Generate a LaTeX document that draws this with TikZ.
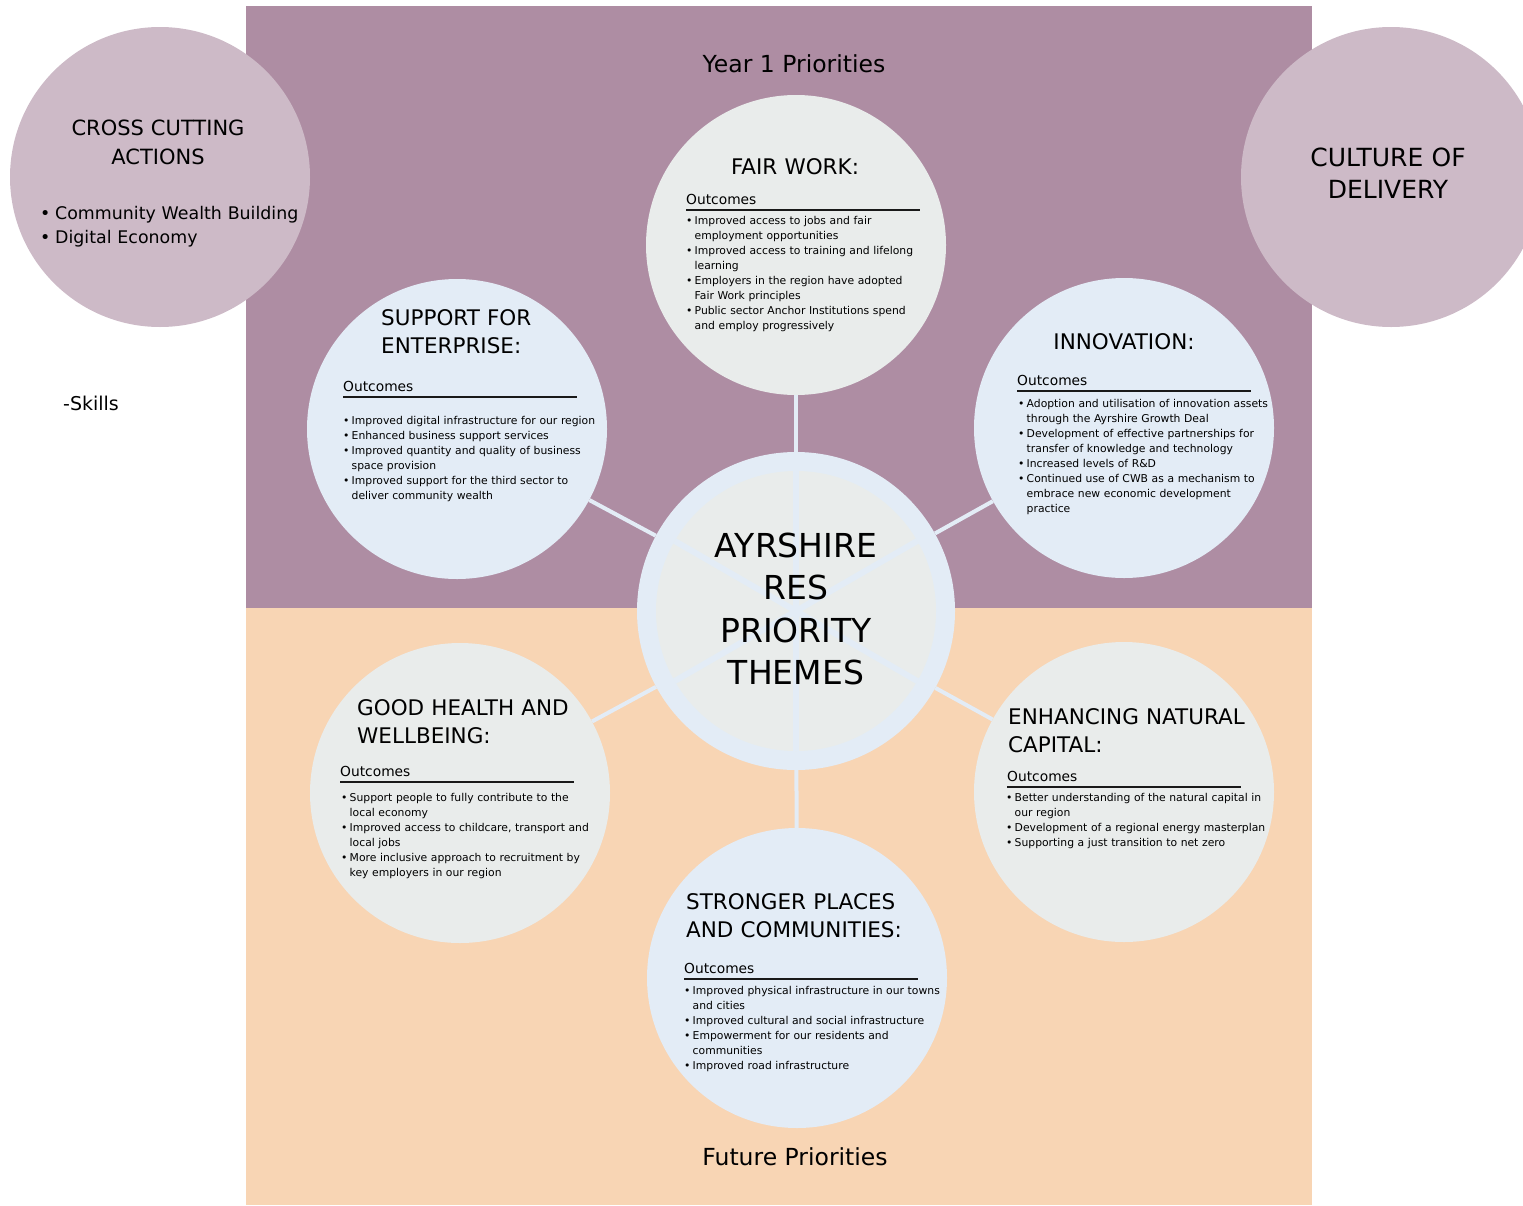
\documentclass[tikz,border=0pt]{standalone}
\usepackage{fontspec}
\setmainfont{DejaVu Sans}
\usepackage{xcolor}
\definecolor{yearmauve}{HTML}{AE8DA3}
\definecolor{futurepeach}{HTML}{F8D5B4}
\definecolor{crossmauve}{HTML}{CDBAC7}
\definecolor{themeblue}{HTML}{E3ECF6}
\definecolor{themegrey}{HTML}{E9ECEB}
\newcommand{\fs}[2]{\fontsize{#1}{#2}\selectfont}
\newcommand{\bul}{\makebox[8.5pt][l]{\textbullet}}
\newcommand{\ind}{\hspace*{8.5pt}}

\begin{document}
\begin{tikzpicture}[
    x=1pt, y=-1pt,
    bubble/.style={circle, minimum size=300pt, inner sep=0pt},
    link/.style={themeblue, line width=4pt},
    spoke/.style={themeblue, line width=6pt},
    heading/.style={anchor=base west, inner sep=0pt, align=left, text width=270pt, font=\fs{21.5}{28}},
    outhead/.style={anchor=base west, inner sep=0pt, text width=234pt, font=\fs{13.8}{16}},
    rule/.style={line width=1.8pt, black!90},
    outlist/.style={anchor=base west, inner sep=0pt, align=left, text width=280pt, font=\fs{10.8}{15}},
    banner/.style={anchor=base, inner sep=0pt, font=\fs{23.5}{28}}
]
\clip (0,0) rectangle (1523,1205);

% ---- Priority bands ----
\fill[yearmauve] (246,6) rectangle (1312,608);
\fill[futurepeach] (246,608) rectangle (1312,1205);
\node[banner] (year) at (794,72) {Year 1 Priorities};
\node[banner] (future) at (795,1165) {Future Priorities};

% ---- Side circles ----
\node[bubble, fill=crossmauve] (cross) at (160,177) {};
\node[bubble, fill=crossmauve] (culture) at (1391,177) {};
\node[anchor=base, inner sep=0pt, align=center, text width=260pt, font=\fs{21}{29}] (crosshead) at (158,135) {CROSS CUTTING\\ACTIONS};
\node[anchor=base west, inner sep=0pt, align=left, text width=280pt, font=\fs{17.4}{24}] (crosslist) at (40,219) {\makebox[15pt][l]{\textbullet}Community Wealth Building\\\makebox[15pt][l]{\textbullet}Digital Economy};
\node[anchor=base west, inner sep=0pt, font=\fs{19}{24}] (skills) at (63,410) {-Skills};
\node[anchor=base, inner sep=0pt, align=center, text width=260pt, font=\fs{25}{32}] (culturehead) at (1388,166) {CULTURE OF\\DELIVERY};

% ---- Themes ----
\node[bubble, fill=themegrey] (fair) at (796,245) {};
\node[bubble, fill=themeblue] (ent) at (457,429) {};
\node[bubble, fill=themeblue] (inno) at (1124,428) {};
\node[bubble, fill=themegrey] (health) at (460,793) {};
\node[bubble, fill=themegrey] (nat) at (1124,792) {};
\node[bubble, fill=themeblue] (places) at (797,978) {};

% ---- Hub ----
\node[circle, minimum size=318pt, inner sep=0pt, fill=themeblue] (hub) at (796,611) {};
\node[circle, minimum size=280pt, inner sep=0pt, fill=themegrey] (hubin) at (796,611) {};
\foreach \a in {90,30,-30,-90,-150,150}
    \draw[spoke] (hubin.center) -- (hubin.\a);
\node[anchor=base, inner sep=0pt, align=center, text width=300pt, font=\fs{33}{42.5}] (hubtext) at (796,557) {AYRSHIRE\\RES\\PRIORITY\\THEMES};

% ---- Links ----
\foreach \s in {fair,ent,inno,health,nat,places}
    \draw[link] (hub) -- (\s);

% ---- Fair work ----
\node[heading, anchor=base, align=center] (fairhead) at (795,174) {FAIR WORK:};
\node[outhead] (fairout) at (686,204) {Outcomes};
\draw[rule] ([yshift=-6pt]fairout.base west) -- ([yshift=-6pt]fairout.base east);
\node[outlist] (fairlist) at (686,224) {\bul Improved access to jobs and fair\\\ind employment opportunities\\\bul Improved access to training and lifelong\\\ind learning\\\bul Employers in the region have adopted\\\ind Fair Work principles\\\bul Public sector Anchor Institutions spend\\\ind and employ progressively};

% ---- Support for enterprise ----
\node[heading] (enthead) at (381,325) {SUPPORT FOR\\ENTERPRISE:};
\node[outhead] (entout) at (343,391) {Outcomes};
\draw[rule] ([yshift=-6pt]entout.base west) -- ([yshift=-6pt]entout.base east);
\node[outlist] (entlist) at (343,424) {\bul Improved digital infrastructure for our region\\\bul Enhanced business support services\\\bul Improved quantity and quality of business\\\ind space provision\\\bul Improved support for the third sector to\\\ind deliver community wealth};

% ---- Innovation ----
\node[heading, anchor=base, align=center] (innohead) at (1124,349) {INNOVATION:};
\node[outhead] (innoout) at (1017,385) {Outcomes};
\draw[rule] ([yshift=-6pt]innoout.base west) -- ([yshift=-6pt]innoout.base east);
\node[outlist] (innolist) at (1018,407) {\bul Adoption and utilisation of innovation assets\\\ind through the Ayrshire Growth Deal\\\bul Development of effective partnerships for\\\ind transfer of knowledge and technology\\\bul Increased levels of R\&D\\\bul Continued use of CWB as a mechanism to\\\ind embrace new economic development\\\ind practice};

% ---- Good health ----
\node[heading] (healthhead) at (357,715) {GOOD HEALTH AND\\WELLBEING:};
\node[outhead] (healthout) at (340,776) {Outcomes};
\draw[rule] ([yshift=-6pt]healthout.base west) -- ([yshift=-6pt]healthout.base east);
\node[outlist] (healthlist) at (341,801) {\bul Support people to fully contribute to the\\\ind local economy\\\bul Improved access to childcare, transport and\\\ind local jobs\\\bul More inclusive approach to recruitment by\\\ind key employers in our region};

% ---- Natural capital ----
\node[heading] (nathead) at (1008,724) {ENHANCING NATURAL\\CAPITAL:};
\node[outhead] (natout) at (1007,781) {Outcomes};
\draw[rule] ([yshift=-6pt]natout.base west) -- ([yshift=-6pt]natout.base east);
\node[outlist] (natlist) at (1006,801) {\bul Better understanding of the natural capital in\\\ind our region\\\bul Development of a regional energy masterplan\\\bul Supporting a just transition to net zero};

% ---- Stronger places ----
\node[heading] (placeshead) at (686,909) {STRONGER PLACES\\AND COMMUNITIES:};
\node[outhead] (placesout) at (684,973) {Outcomes};
\draw[rule] ([yshift=-6pt]placesout.base west) -- ([yshift=-6pt]placesout.base east);
\node[outlist] (placeslist) at (684,994) {\bul Improved physical infrastructure in our towns\\\ind and cities\\\bul Improved cultural and social infrastructure\\\bul Empowerment for our residents and\\\ind communities\\\bul Improved road infrastructure};

\end{tikzpicture}
\end{document}
